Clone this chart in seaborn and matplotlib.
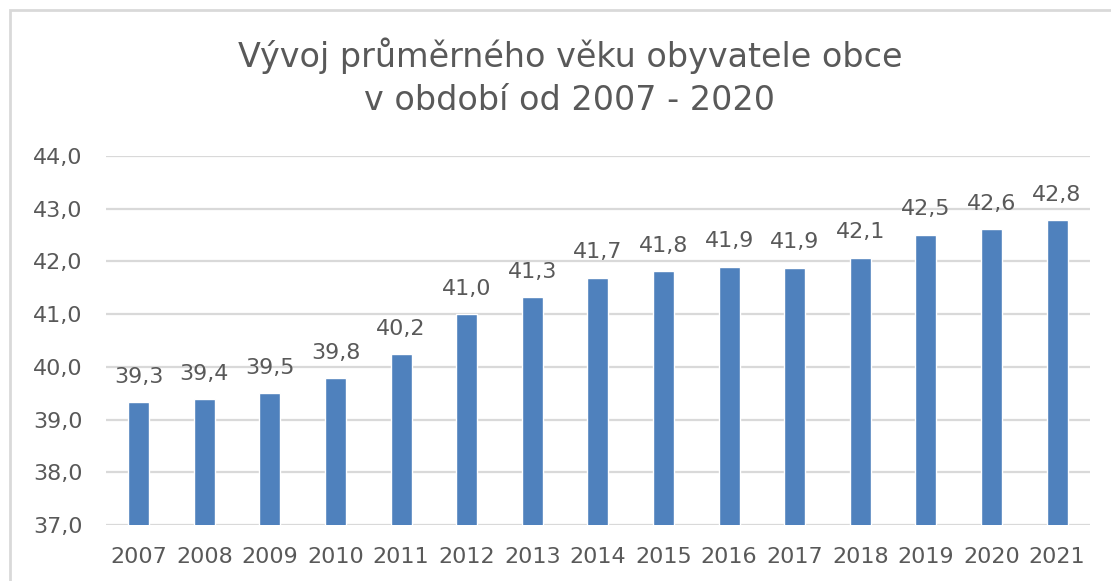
import pandas as pd
import matplotlib.pyplot as plt
import seaborn as sns
from matplotlib.patches import Rectangle

# Data
years = ['2007', '2008', '2009', '2010', '2011', '2012', '2013', '2014',
         '2015', '2016', '2017', '2018', '2019', '2020', '2021']
avg_age = [39.33, 39.39, 39.50, 39.79, 40.24, 41.00, 41.32, 41.69,
           41.81, 41.90, 41.88, 42.07, 42.51, 42.61, 42.78]
y_ticks = [37, 38, 39, 40, 41, 42, 43, 44]

title_lines = ['Vývoj průměrného věku obyvatele obce', 'v období od 2007 - 2020']

text_color = '#595959'
bar_color = '#4F81BD'
grid_color = '#D9D9D9'


def draw_chart():
    df = pd.DataFrame({'year': years, 'age': avg_age})

    sns.set_style('white')
    plt.rcParams['font.family'] = ['DejaVu Sans']

    fig = plt.figure(figsize=(11.11, 5.81), dpi=100)
    ax = fig.add_axes([0.0954, 0.0964, 0.8856, 0.6351])

    sns.barplot(data=df, x='year', y='age', color=bar_color, width=0.32,
                saturation=1, ax=ax, zorder=3)

    # Labels with Czech decimal comma
    labels = [f'{v:.1f}'.replace('.', ',') for v in avg_age]
    ax.bar_label(ax.containers[0], labels=labels, padding=11,
                 fontsize=16, color=text_color)

    ax.set_ylim(37, 44)
    ax.set_yticks(y_ticks)
    ax.set_yticklabels([f'{t:.1f}'.replace('.', ',') for t in y_ticks])
    ax.set_xlim(-0.5, len(years) - 0.5)
    ax.set_xlabel('')
    ax.set_ylabel('')

    ax.grid(axis='y', color=grid_color, linewidth=1.6, zorder=0)
    ax.set_axisbelow(True)
    for s in ax.spines.values():
        s.set_visible(False)
    ax.tick_params(axis='both', length=0, labelsize=16, colors=text_color)
    ax.tick_params(axis='y', pad=17)
    ax.tick_params(axis='x', pad=16)

    # Title, two lines placed on their baselines
    fig.text(0.513, 1 - 67 / 581, title_lines[0], ha='center', va='baseline',
             fontsize=24, color=text_color)
    fig.text(0.513, 1 - 110 / 581, title_lines[1], ha='center', va='baseline',
             fontsize=24, color=text_color)

    # Chart frame (left and top edges visible)
    fig.add_artist(Rectangle((0.009, -0.05), 1.1, 1.033, transform=fig.transFigure,
                             fill=False, edgecolor=grid_color, linewidth=2))

    fig.savefig('out.png', dpi=100)


if __name__ == '__main__':
    draw_chart()
